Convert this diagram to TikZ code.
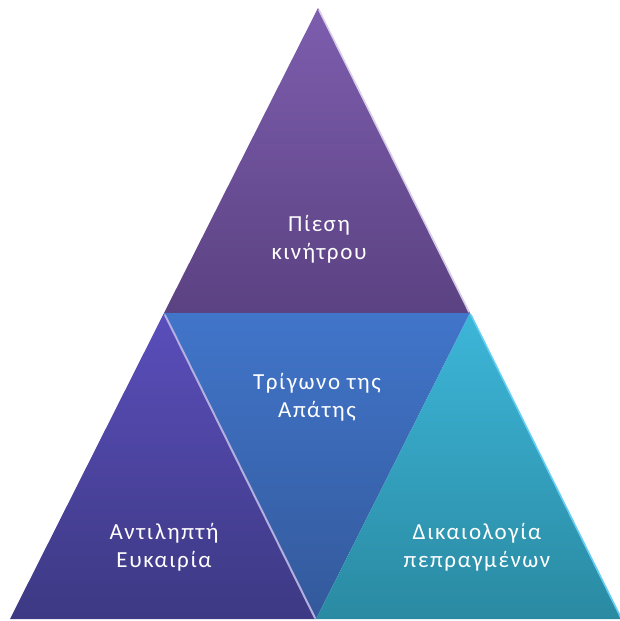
\documentclass[tikz,border=0pt]{standalone}
\usepackage{fontspec}
\usetikzlibrary{calc}
\setmainfont{Carlito}
\newfontfamily\lblfont[LetterSpace=7]{Carlito}
\definecolor{topA}{HTML}{7D5DAE}
\definecolor{topB}{HTML}{5B4282}
\definecolor{leftA}{HTML}{5A4EBB}
\definecolor{leftB}{HTML}{3D3983}
\definecolor{midA}{HTML}{4175CA}
\definecolor{midB}{HTML}{33599B}
\definecolor{rightA}{HTML}{3DB6D9}
\definecolor{rightB}{HTML}{2A8AA2}
\tikzset{
  lbl/.style={text=white, align=center, font=\lblfont\fontsize{23}{27.7}\selectfont, inner sep=0pt},
  hl/.style={line width=1.6pt, line cap=round}
}
\begin{document}
\begin{tikzpicture}[x=1pt,y=-1pt]
\useasboundingbox (0,0) rectangle (620,621);
\coordinate (A) at (318,8);
\coordinate (L) at (10,619);
\coordinate (R) at (622,619);
\coordinate (ML) at (164,313);
\coordinate (MR) at (470,313);
\coordinate (MB) at (316,619);
% triangles
\shade[top color=topA, bottom color=topB] (A) -- (MR) -- (ML) -- cycle;
\shade[top color=leftA, bottom color=leftB] (ML) -- (MB) -- (L) -- cycle;
\shade[top color=midA, bottom color=midB] (ML) -- (MR) -- (MB) -- cycle;
\shade[top color=rightA, bottom color=rightB] (MR) -- (R) -- (MB) -- cycle;
% bevel highlights
\draw[hl, draw=white!70!topA] ($(A)+(1,2)$) -- ($(MR)+(-1,-1)$);
\draw[hl, draw=white!55!leftA, line width=2pt] ($(ML)+(1,2)$) -- ($(MB)+(-1,-1)$);
\draw[hl, draw=cyan!60!white] ($(MR)+(1,2)$) -- ($(R)+(-1,-1)$);
% labels
\node[lbl] (t1) at (319,239) {Πίεση\\κινήτρου};
\node[lbl] (t2) at (317,397) {Τρίγωνο της\\Απάτης};
\node[lbl] (t3) at (164,547) {Αντιληπτή\\Ευκαιρία};
\node[lbl] (t4) at (477,547) {Δικαιολογία\\πεπραγμένων};
\end{tikzpicture}
\end{document}
